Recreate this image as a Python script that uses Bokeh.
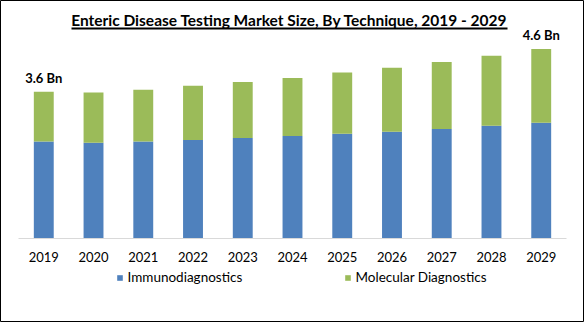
from bokeh.plotting import figure
from bokeh.models import Label, BoxAnnotation, Legend, LegendItem, ColumnDataSource
from bokeh.core.properties import value
from bokeh.embed import file_html
from bokeh.resources import INLINE

title_text = "Enteric Disease Testing Market Size, By Technique, 2019 - 2029"
years = ["2019", "2020", "2021", "2022", "2023", "2024", "2025", "2026", "2027", "2028", "2029"]
immuno = [2.38, 2.35, 2.38, 2.42, 2.47, 2.52, 2.57, 2.62, 2.69, 2.77, 2.84]
molecular = [1.22, 1.23, 1.27, 1.33, 1.37, 1.42, 1.50, 1.57, 1.64, 1.71, 1.81]
series_names = ["Immunodiagnostics", "Molecular Diagnostics"]
colors = ["#4F81BD", "#9BBB59"]
label_years = ["2019", "2029"]
label_texts = ["3.6 Bn", "4.6 Bn"]

FONT = "Lato"

src = ColumnDataSource(dict(years=years, immuno=immuno, molecular=molecular))

p = figure(x_range=years, y_range=(-2.05, 5.836), width=584, height=322,
           output_backend="svg", toolbar_location=None, y_axis_location=None,
           min_border_left=0, min_border_right=0, min_border_top=0, min_border_bottom=0)
p.x_range.range_padding = 0.37
p.x_range.range_padding_units = "absolute"
p.outline_line_color = "#000000"
p.outline_line_width = 1
p.xgrid.grid_line_color = None
p.ygrid.grid_line_color = None

rs = p.vbar_stack(["immuno", "molecular"], x="years", width=0.4, color=colors, source=src, line_color=None)

totals = {y: a + b for y, a, b in zip(years, immuno, molecular)}
lab_src = ColumnDataSource(dict(x=label_years, y=[totals[y] for y in label_years], t=label_texts))
p.text(x="x", y="y", text="t", source=lab_src, text_align="center", text_baseline="bottom",
       y_offset=-6, text_font=value(FONT), text_font_style="bold", text_font_size="13px",
       text_color="#000000")

ax = p.xaxis[0]
ax.fixed_location = 0
ax.bounds = (0, len(years))
ax.axis_line_color = "#D9D9D9"
ax.major_tick_line_color = None
ax.minor_tick_line_color = None
ax.major_tick_out = 0
ax.major_label_standoff = 13
ax.major_label_text_font = FONT
ax.major_label_text_font_size = "13px"
ax.major_label_text_color = "#000000"

title = Label(x=289, y=303, x_units="screen", y_units="screen", text=title_text,
              text_align="center", text_baseline="alphabetic", text_font=FONT,
              text_font_style="bold", text_font_size="15.5px", text_color="#000000")
p.add_layout(title)
underline = BoxAnnotation(left=71, right=507, bottom=293, top=295,
                          left_units="screen", right_units="screen",
                          bottom_units="screen", top_units="screen",
                          fill_color="#000000", fill_alpha=1, line_color=None)
p.add_layout(underline)

legend = Legend(items=[LegendItem(label=series_names[i], renderers=[rs[i]]) for i in range(2)],
                orientation="horizontal", location=(115.5, 37),
                glyph_width=7, glyph_height=7, label_standoff=5, label_width=216,
                padding=0, margin=0, spacing=0, border_line_color=None,
                background_fill_alpha=0, label_text_font=FONT, label_text_font_size="13.5px",
                label_text_color="#000000")
p.add_layout(legend, "center")

open("out.html", "w").write(file_html(p, INLINE))
